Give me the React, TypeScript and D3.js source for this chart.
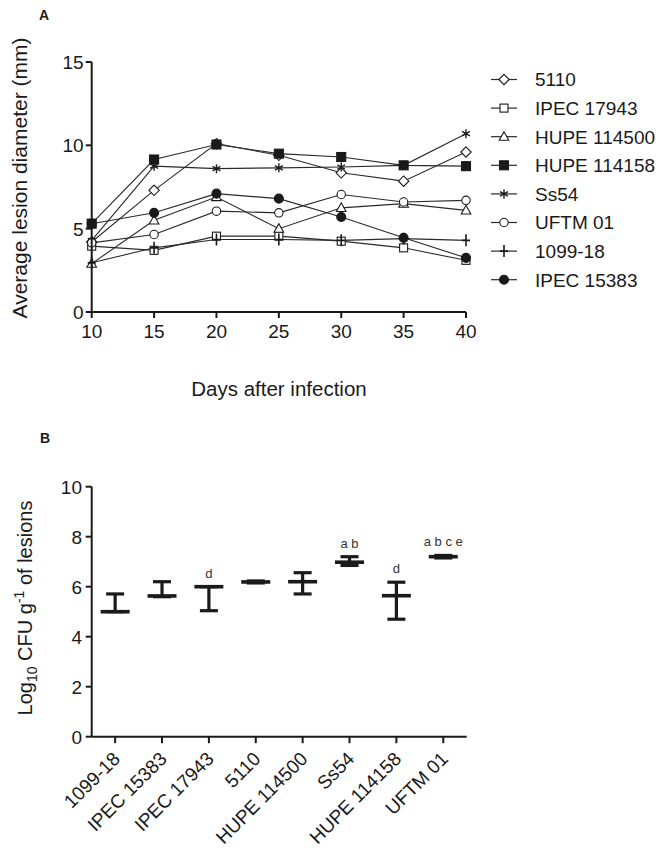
import React from 'react';
import * as d3 from 'd3';

// ---------- Panel A data ----------
const days = [10, 15, 20, 25, 30, 35, 40];
const seriesNames = ['5110', 'IPEC 17943', 'HUPE 114500', 'HUPE 114158', 'Ss54', 'UFTM 01', '1099-18', 'IPEC 15383'];
const seriesMarkers = ['diamond', 'square', 'triangle', 'squareFilled', 'star', 'circle', 'plus', 'circleFilled'];
const v5110 = [4.2, 7.3, 10.1, 9.4, 8.35, 7.85, 9.6];
const vIPEC17943 = [3.95, 3.7, 4.55, 4.55, 4.25, 3.85, 3.1];
const vHUPE114500 = [2.9, 5.5, 6.9, 5.0, 6.25, 6.5, 6.1];
const vHUPE114158 = [5.3, 9.15, 10.05, 9.5, 9.3, 8.8, 8.75];
const vSs54 = [4.3, 8.75, 8.6, 8.65, 8.7, 8.8, 10.7];
const vUFTM01 = [4.15, 4.65, 6.05, 5.95, 7.05, 6.6, 6.7];
const v109918 = [2.95, 3.85, 4.35, 4.35, 4.3, 4.4, 4.3];
const vIPEC15383 = [5.3, 5.95, 7.1, 6.8, 5.7, 4.45, 3.25];
const seriesValues = [v5110, vIPEC17943, vHUPE114500, vHUPE114158, vSs54, vUFTM01, v109918, vIPEC15383];
const yTicksA = [0, 5, 10, 15];

// ---------- Panel B data ----------
const strains = ['1099-18', 'IPEC 15383', 'IPEC 17943', '5110', 'HUPE 114500', 'Ss54', 'HUPE 114158', 'UFTM 01'];
const cfuMean = [5.0, 5.63, 6.0, 6.19, 6.2, 6.98, 5.64, 7.2];
const cfuLow = [5.0, 5.6, 5.04, 6.15, 5.71, 6.85, 4.7, 7.15];
const cfuHigh = [5.71, 6.2, 6.0, 6.23, 6.56, 7.2, 6.18, 7.25];
const cfuLetters = ['', '', 'd', '', '', 'a b', 'd', 'a b c e'];
const yTicksB = [0, 2, 4, 6, 8, 10];

const FONT = '"Liberation Sans", Arial, sans-serif';
const INK = '#1a1a1a';

function Marker({ type, x, y }: { type: string; x: number; y: number }) {
  const s = 4.2;
  const common = { stroke: INK, strokeWidth: 1.1 };
  switch (type) {
    case 'diamond':
      return <path d={`M${x},${y - 5.2}L${x + 5.2},${y}L${x},${y + 5.2}L${x - 5.2},${y}Z`} fill="#fff" {...common} />;
    case 'square':
      return <rect x={x - 4} y={y - 4} width={8} height={8} fill="#fff" {...common} />;
    case 'squareFilled':
      return <rect x={x - 4.5} y={y - 4.5} width={9} height={9} fill={INK} {...common} />;
    case 'triangle':
      return <path d={`M${x},${y - 5}L${x + 4.8},${y + 3.6}L${x - 4.8},${y + 3.6}Z`} fill="#fff" {...common} />;
    case 'circle':
      return <circle cx={x} cy={y} r={s} fill="#fff" {...common} />;
    case 'circleFilled':
      return <circle cx={x} cy={y} r={4.5} fill={INK} {...common} />;
    case 'star': {
      const r = 4.5;
      const a = r * Math.cos(Math.PI / 6);
      const b = r * Math.sin(Math.PI / 6);
      return (
        <path
          d={`M${x},${y - r}L${x},${y + r}M${x - a},${y - b}L${x + a},${y + b}M${x - a},${y + b}L${x + a},${y - b}`}
          stroke={INK}
          strokeWidth={1.4}
          fill="none"
        />
      );
    }
    case 'plus':
      return (
        <path d={`M${x},${y - 6}L${x},${y + 6}M${x - 4},${y}L${x + 4},${y}`} stroke={INK} strokeWidth={1.6} fill="none" />
      );
    default:
      return null;
  }
}

export default function App() {
  // ---- Panel A scales ----
  const xA = d3.scaleLinear().domain([10, 40]).range([91.7, 466]);
  const yA = d3.scaleLinear().domain([0, 15]).range([312, 62]);
  const line = d3
    .line<number>()
    .x((_, i) => xA(days[i]))
    .y((d) => yA(d));

  // ---- Panel B scales ----
  const xB = d3.scalePoint<string>().domain(strains).range([91.7, 466.7]).padding(0.5);
  const yB = d3.scaleLinear().domain([0, 10]).range([736.7, 486.7]);

  const legendY0 = 79.5;
  const legendStep = 28.6;

  return (
    <svg
      width={670}
      height={864}
      style={{ position: 'absolute', left: 0, top: 0, background: '#fff' }}
      fontFamily={FONT}
    >
      <rect x={0} y={0} width={670} height={864} fill="#fff" />

      {/* ===== Panel A ===== */}
      <text x={39} y={20} fontSize={14} fontWeight="bold" fill={INK}>A</text>

      {/* lines */}
      {seriesValues.map((vals, i) => (
        <path key={'l' + i} d={line(vals) || ''} fill="none" stroke="#2a2a2a" strokeWidth={1.1} />
      ))}
      {/* markers */}
      {seriesValues.map((vals, i) =>
        vals.map((v, j) => <Marker key={`m${i}-${j}`} type={seriesMarkers[i]} x={xA(days[j])} y={yA(v)} />)
      )}

      {/* axes A */}
      <line x1={xA(10)} x2={xA(10)} y1={yA(15)} y2={yA(0)} stroke={INK} strokeWidth={2} />
      <line x1={xA(10)} x2={xA(40)} y1={yA(0)} y2={yA(0)} stroke={INK} strokeWidth={2} />
      {yTicksA.map((t) => (
        <g key={'ya' + t}>
          <line x1={xA(10) - 6} x2={xA(10)} y1={yA(t)} y2={yA(t)} stroke={INK} strokeWidth={2} />
          <text x={xA(10) - 8} y={yA(t)} dy="0.36em" textAnchor="end" fontSize={19} fill={INK}>
            {t}
          </text>
        </g>
      ))}
      {days.map((t) => (
        <g key={'xa' + t}>
          <line x1={xA(t)} x2={xA(t)} y1={yA(0)} y2={yA(0) + 6} stroke={INK} strokeWidth={2} />
          <text x={xA(t)} y={338} textAnchor="middle" fontSize={19} fill={INK}>
            {t}
          </text>
        </g>
      ))}
      <text x={279} y={396} textAnchor="middle" fontSize={20.5} fill={INK}>
        Days after infection
      </text>
      <text transform="translate(27,178) rotate(-90)" textAnchor="middle" fontSize={21} fill={INK}>
        Average lesion diameter (mm)
      </text>

      {/* legend */}
      {seriesNames.map((name, i) => {
        const y = legendY0 + i * legendStep;
        return (
          <g key={'lg' + i}>
            <line x1={491} x2={517} y1={y} y2={y} stroke="#2a2a2a" strokeWidth={1.2} />
            <Marker type={seriesMarkers[i]} x={504} y={y} />
            <text x={535} y={y} dy="0.36em" fontSize={19} fill={INK}>
              {name}
            </text>
          </g>
        );
      })}

      {/* ===== Panel B ===== */}
      <text x={40} y={443} fontSize={14} fontWeight="bold" fill={INK}>B</text>

      {/* error bars */}
      {strains.map((s, i) => {
        const x = xB(s) as number;
        return (
          <g key={'eb' + i}>
            <line x1={x} x2={x} y1={yB(cfuHigh[i])} y2={yB(cfuLow[i])} stroke={INK} strokeWidth={3.2} />
            <line x1={x - 9} x2={x + 9} y1={yB(cfuHigh[i])} y2={yB(cfuHigh[i])} stroke={INK} strokeWidth={3.2} />
            <line x1={x - 9} x2={x + 9} y1={yB(cfuLow[i])} y2={yB(cfuLow[i])} stroke={INK} strokeWidth={3.2} />
            <line x1={x - 14.5} x2={x + 14.5} y1={yB(cfuMean[i])} y2={yB(cfuMean[i])} stroke={INK} strokeWidth={3.6} />
            {cfuLetters[i] && (
              <text x={x} y={yB(cfuHigh[i]) - 9} textAnchor="middle" fontSize={13} fill="#333">
                {cfuLetters[i]}
              </text>
            )}
          </g>
        );
      })}

      {/* axes B */}
      <line x1={91.7} x2={91.7} y1={yB(10)} y2={yB(0)} stroke={INK} strokeWidth={2} />
      <line x1={91.7} x2={466.7} y1={yB(0)} y2={yB(0)} stroke={INK} strokeWidth={2} />
      {yTicksB.map((t) => (
        <g key={'yb' + t}>
          <line x1={85.7} x2={91.7} y1={yB(t)} y2={yB(t)} stroke={INK} strokeWidth={2} />
          <text x={82} y={yB(t)} dy="0.36em" textAnchor="end" fontSize={19} fill={INK}>
            {t}
          </text>
        </g>
      ))}
      {strains.map((s) => {
        const x = xB(s) as number;
        return (
          <g key={'xb' + s}>
            <line x1={x} x2={x} y1={yB(0)} y2={yB(0) + 6.5} stroke={INK} strokeWidth={2} />
            <text
              transform={`translate(${x + 6},${760}) rotate(-45)`}
              textAnchor="end"
              fontSize={19}
              fill={INK}
            >
              {s}
            </text>
          </g>
        );
      })}
      <text transform="translate(32,608) rotate(-90)" textAnchor="middle" fontSize={20} fill={INK}>
        Log
        <tspan fontSize={14} dy={5}>10</tspan>
        <tspan dy={-5}> CFU g</tspan>
        <tspan fontSize={14} dy={-8}>-1</tspan>
        <tspan dy={8}> of lesions</tspan>
      </text>
    </svg>
  );
}
